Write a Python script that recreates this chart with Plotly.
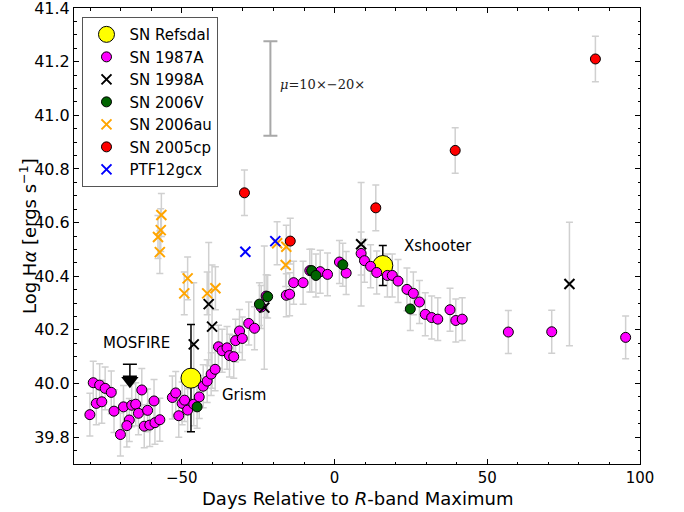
import plotly.graph_objects as go

# ---------------- data ----------------
sn1987a_x = [-79.0, -76.9, -75.1, -73.1, -63.1, -78.0, -76.2, -80.1, -72.2, -69.1, -66.4, -65.1, -59.1,
             -64.2, -61.2, -67.2, -68.0, -70.1, -62.3, -60.5, -58.8, -57.2,
             -53.1, -52.0, -49.9, -49.1, -51.0, -48.1, -46.1, -44.3, -43.0, -41.7, -40.4, -39.1,
             -38.0, -36.8, -35.2, -34.4, -33.0, -32.4, -31.1, -30.2, -28.1, -26.2,
             -24.0, -22.4, -15.8, -14.7, -13.4, -10.3, -8.1, -4.7, -2.3, 1.6, 3.8, 8.7, 9.8, 11.8,
             13.8, 17.3, 18.9, 20.8, 23.7, 25.8, 27.8, 29.7, 31.8, 33.8, 37.8, 39.7, 41.8, 56.9,
             71.1, 95.3]
sn1987a_y = [40.003, 39.994, 39.982, 39.967, 39.976, 39.926, 39.932, 39.884, 39.897, 39.913, 39.919,
             39.923, 39.935, 39.889, 39.900, 39.864, 39.843, 39.810, 39.841, 39.845, 39.854, 39.865,
             39.948, 39.965, 39.926, 39.938, 39.880, 39.901, 39.923, 39.950, 39.990, 40.009, 40.035,
             40.053, 40.137, 40.122, 40.133, 40.104, 40.100, 40.160, 40.196, 40.168, 40.224, 40.206,
             40.285, 40.326, 40.329, 40.333, 40.376, 40.376, 40.421, 40.417, 40.407, 40.453, 40.412,
             40.485, 40.458, 40.437, 40.414, 40.403, 40.403, 40.382, 40.351, 40.336, 40.304, 40.258,
             40.246, 40.240, 40.275, 40.235, 40.240, 40.192, 40.193, 40.172]
sn1987a_err = 0.08

sn1998a_x = [-46.1, -41.2, -40.1, -23.0, 8.7, 76.9]
sn1998a_y = [40.146, 40.296, 40.212, 40.283, 40.519, 40.371]
sn1998a_err = 0.23

sn2006v_x = [-45.0, -24.6, -21.9, -7.5, -6.1, 2.7, 24.8]
sn2006v_y = [39.913, 40.296, 40.324, 40.421, 40.403, 40.443, 40.278]
sn2006v_err = 0.08

sn2006au_x = [-56.7, -56.9, -57.8, -57.2, -48.1, -49.2, -41.7, -39.0, -18.8, -15.8, -16.0]
sn2006au_y = [40.628, 40.572, 40.546, 40.490, 40.392, 40.336, 40.336, 40.355, 40.523, 40.510, 40.442]
sn2006au_err = 0.08

sn2005cp_x = [-29.5, -14.5, 13.5, 39.5, 85.4]
sn2005cp_y = [40.711, 40.531, 40.655, 40.869, 41.210]
sn2005cp_err = 0.085

ptf12gcx_x = [-29.2, -19.4]
ptf12gcx_y = [40.491, 40.531]

refsdal_x = [-47.0, 15.8]
refsdal_y = [40.02, 40.44]
refsdal_err = [0.20, 0.075]

mosfire_x = [-67.0]
mosfire_lim = [40.072]

mu_x = [-21.0]
mu_y = [41.1]
mu_err = [0.176]

labels = ["MOSFIRE", "Grism", "Xshooter"]
label_x = [-65.0, -29.5, 34.0]
label_y = [40.152, 39.957, 40.513]

x_ticks = [-50, 0, 50, 100]
y_ticks = [39.8, 40.0, 40.2, 40.4, 40.6, 40.8, 41.0, 41.2, 41.4]
y_ticklabels = ["39.8", "40.0", "40.2", "40.4", "40.6", "40.8", "41.0", "41.2", "41.4"]

# ---------------- figure ----------------
FONT = "DejaVu Sans"
ERRC = "#d0d0d0"
fig = go.Figure()

def errtrace(x, y, e):
    fig.add_trace(go.Scatter(
        x=x, y=y, mode="markers", showlegend=False, hoverinfo="skip",
        marker=dict(size=1, opacity=0),
        error_y=dict(type="constant", value=e, color=ERRC, thickness=1.5, width=3.5)))

errtrace(sn1987a_x, sn1987a_y, sn1987a_err)
errtrace(sn1998a_x, sn1998a_y, sn1998a_err)
errtrace(sn2006v_x, sn2006v_y, sn2006v_err)
errtrace(sn2006au_x, sn2006au_y, sn2006au_err)
errtrace(sn2005cp_x, sn2005cp_y, sn2005cp_err)

# magnification bar
fig.add_trace(go.Scatter(
    x=mu_x, y=mu_y, mode="markers", showlegend=False, hoverinfo="skip",
    marker=dict(size=1, opacity=0),
    error_y=dict(type="data", array=mu_err, color="#a8a8a8", thickness=2, width=7)))

# MOSFIRE upper limit
fig.add_trace(go.Scatter(
    x=mosfire_x, y=mosfire_lim, mode="markers", showlegend=False, hoverinfo="skip",
    marker=dict(size=1, opacity=0),
    error_y=dict(type="data", symmetric=False, array=[0], arrayminus=[0.045],
                 color="black", thickness=1.5, width=7)))
fig.add_trace(go.Scatter(
    x=mosfire_x, y=[v - 0.062 for v in mosfire_lim], mode="markers", showlegend=False,
    hoverinfo="skip", marker=dict(symbol="triangle-down", size=15, color="black")))

edge = dict(color="black", width=1)
fig.add_trace(go.Scatter(
    x=refsdal_x, y=refsdal_y, mode="markers", name="SN Refsdal",
    marker=dict(size=20, color="#ffff00", line=edge),
    error_y=dict(type="data", array=refsdal_err, color="black", thickness=1.5, width=4)))
fig.add_trace(go.Scatter(
    x=sn1987a_x, y=sn1987a_y, mode="markers", name="SN 1987A",
    marker=dict(size=10, color="#ff00ff", line=edge)))
fig.add_trace(go.Scatter(
    x=sn1998a_x, y=sn1998a_y, mode="markers", name="SN 1998A",
    marker=dict(symbol="x-thin", size=10, color="black", line=dict(color="black", width=2))))
fig.add_trace(go.Scatter(
    x=sn2006v_x, y=sn2006v_y, mode="markers", name="SN 2006V",
    marker=dict(size=10, color="#006400", line=edge)))
fig.add_trace(go.Scatter(
    x=sn2006au_x, y=sn2006au_y, mode="markers", name="SN 2006au",
    marker=dict(symbol="x-thin", size=10, color="#ffa500", line=dict(color="#ffa500", width=2))))
fig.add_trace(go.Scatter(
    x=sn2005cp_x, y=sn2005cp_y, mode="markers", name="SN 2005cp",
    marker=dict(size=10, color="#ff0000", line=edge)))
fig.add_trace(go.Scatter(
    x=ptf12gcx_x, y=ptf12gcx_y, mode="markers", name="PTF12gcx",
    marker=dict(symbol="x-thin", size=10, color="#0000ff", line=dict(color="#0000ff", width=2))))

for t, xx, yy in zip(labels, label_x, label_y):
    fig.add_annotation(x=xx, y=yy, text=t, showarrow=False,
                       font=dict(family=FONT, size=15, color="black"))

fig.add_annotation(x=-18.6, y=41.113, text="<i>μ</i>=10×−20×", showarrow=False,
                   xanchor="left", font=dict(family="DejaVu Serif", size=13, color="#222222"))

# axis titles placed as paper annotations
fig.add_annotation(xref="paper", yref="paper", x=0.5, y=0, yshift=-34, yanchor="middle",
                   text="Days Relative to <i>R</i>-band Maximum", showarrow=False,
                   font=dict(family=FONT, size=18, color="black"))
fig.add_annotation(xref="paper", yref="paper", x=0, y=0.5, xshift=-46, xanchor="center",
                   text="Log H<i>α</i> [ergs s<sup>−1</sup>]", showarrow=False, textangle=-90,
                   font=dict(family=FONT, size=18, color="black"))

axis_common = dict(showline=True, linecolor="black", linewidth=1, mirror="allticks",
                   ticks="inside", ticklen=5, tickwidth=1, tickcolor="black",
                   showgrid=False, zeroline=False, automargin=False,
                   ticklabeloverflow="allow")

fig.update_layout(
    width=684, height=512,
    margin=dict(l=74, r=44, t=8, b=48, autoexpand=False),
    plot_bgcolor="white", paper_bgcolor="white",
    font=dict(family=FONT, color="black"),
    xaxis=dict(range=[-85.3, 100], tickvals=x_ticks,
               tickfont=dict(family=FONT, size=15, color="black"),
               minor=dict(dtick=10, tick0=0, ticks="inside", ticklen=2.5, tickcolor="black"),
               **axis_common),
    yaxis=dict(range=[39.7, 41.4], tickvals=y_ticks, ticktext=y_ticklabels,
               tickfont=dict(family=FONT, size=16, color="black"),
               minor=dict(dtick=0.05, tick0=39.7, ticks="inside", ticklen=2.5, tickcolor="black"),
               **axis_common),
    legend=dict(x=0.015, y=0.98, xanchor="left", yanchor="top",
                bordercolor="#555555", borderwidth=1, bgcolor="white",
                font=dict(family=FONT, size=15), itemsizing="trace", itemwidth=36,
                tracegroupgap=0),
    showlegend=True,
)

fig.write_html("out.html", config={"displayModeBar": False},
               post_script="document.body.style.margin='0';document.body.style.overflow='hidden';")
